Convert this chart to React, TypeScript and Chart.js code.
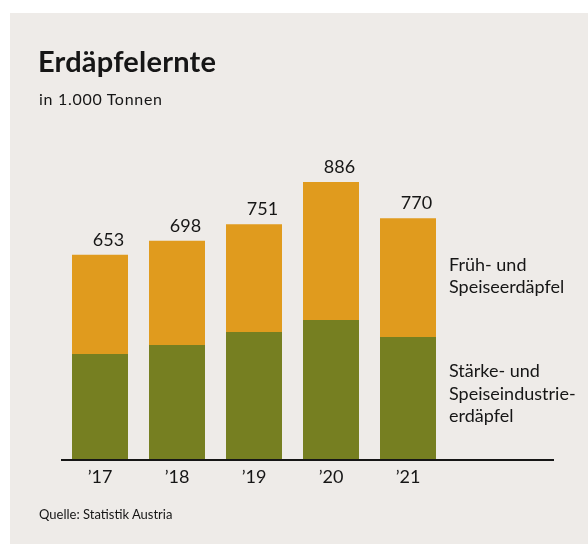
import React, { useEffect, useRef } from "react";
import { Chart, registerables } from "chart.js";

Chart.register(...registerables);

const years = ["\u201917", "\u201918", "\u201919", "\u201920", "\u201921"];
const totals = [653, 698, 751, 886, 770];
const starchIndustry = [336, 365, 406, 445, 390];
const earlyAndTable = totals.map((t, i) => t - starchIndustry[i]);

const BG = "#EEEBE8";
const ORANGE = "#E09B1E";
const GREEN = "#767F21";
const INK = "#161616";
const FONT = "Lato, 'DejaVu Sans', sans-serif";

const overlayPlugin = {
  id: "overlay",
  afterDatasetsDraw(chart: any) {
    const { ctx, chartArea } = chart;
    const y0 = chart.scales.y.getPixelForValue(0);
    ctx.save();
    ctx.strokeStyle = INK;
    ctx.lineWidth = 2;
    ctx.beginPath();
    ctx.moveTo(chartArea.left - 0.5, y0 + 1);
    ctx.lineTo(chartArea.right + 107.5, y0 + 1);
    ctx.stroke();

    const meta = chart.getDatasetMeta(1);
    ctx.fillStyle = INK;
    ctx.font = `18px ${FONT}`;
    ctx.textAlign = "center";
    ctx.textBaseline = "alphabetic";
    meta.data.forEach((bar: any, i: number) => {
      ctx.fillText(String(totals[i]), bar.x + 8.5, bar.y - 9);
    });
    ctx.restore();
  },
};

export default function App() {
  const ref = useRef<HTMLCanvasElement>(null);
  useEffect(() => {
    if (!ref.current) return;
    const chart = new Chart(ref.current, {
      type: "bar",
      data: {
        labels: years,
        datasets: [
          {
            label: "Stärke- und Speiseindustrieerdäpfel",
            data: starchIndustry,
            backgroundColor: GREEN,
            categoryPercentage: 1,
            barPercentage: 56 / 77,
          },
          {
            label: "Früh- und Speiseerdäpfel",
            data: earlyAndTable,
            backgroundColor: ORANGE,
            categoryPercentage: 1,
            barPercentage: 56 / 77,
          },
        ],
      },
      options: {
        animation: false,
        responsive: false,
        devicePixelRatio: 1,
        layout: { padding: { left: 61.5, right: 141.5, top: 146.4, bottom: 0 } },
        plugins: { legend: { display: false }, tooltip: { enabled: false } },
        scales: {
          x: {
            stacked: true,
            grid: { display: false, drawTicks: false },
            border: { display: false },
            ticks: { color: INK, font: { family: FONT, size: 18 }, padding: 7 },
            afterFit: (scale: any) => {
              scale.height = 86;
            },
          },
          y: {
            stacked: true,
            display: false,
            min: 0,
            max: 1000,
          },
        },
      },
      plugins: [overlayPlugin],
    });
    return () => chart.destroy();
  }, []);

  const text = (style: React.CSSProperties, content: React.ReactNode) => (
    <div style={{ position: "absolute", fontFamily: FONT, color: INK, whiteSpace: "nowrap", ...style }}>{content}</div>
  );

  return (
    <div style={{ position: "absolute", left: 0, top: 0, width: 588, height: 545, background: "#fff", overflow: "hidden" }}>
      <div style={{ position: "absolute", left: 10, top: 13, width: 578, height: 531, background: BG }} />
      <canvas ref={ref} width={588} height={545} style={{ position: "absolute", left: 0, top: 0, width: 588, height: 545 }} />
      {text({ left: 38, top: 46.3, fontSize: 29, fontWeight: 700, lineHeight: "29px", letterSpacing: "0.2px" }, "Erdäpfelernte")}
      {text({ left: 39, top: 90.8, fontSize: 16, lineHeight: "16px", letterSpacing: "0.7px" }, "in 1.000 Tonnen")}
      {text({ left: 449, top: 254, fontSize: 18, lineHeight: "21.5px" }, <>Früh- und<br />Speiseerdäpfel</>)}
      {text({ left: 449, top: 359, fontSize: 18, lineHeight: "22.5px" }, <>Stärke- und<br />Speiseindustrie-<br />erdäpfel</>)}
      {text({ left: 39, top: 508, fontSize: 13, lineHeight: "13px" }, "Quelle: Statistik Austria")}
    </div>
  );
}
